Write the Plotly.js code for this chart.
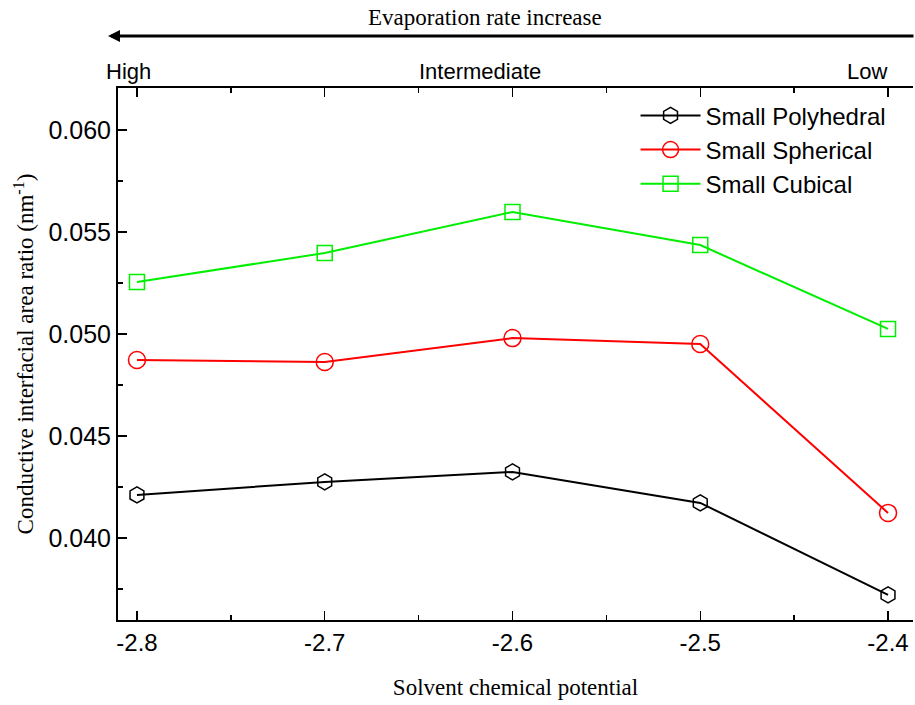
<!DOCTYPE html>
<html><head><meta charset="utf-8">
<script src="https://cdn.plot.ly/plotly-3.0.1.min.js"></script>
<style>html,body{margin:0;padding:0;background:#fff;}#chart{width:915px;height:705px;}</style>
</head><body><div id="chart"></div>
<script>
const potential = [-2.8, -2.7, -2.6, -2.5, -2.4];
const polyhedral = [0.04211, 0.04275, 0.04324, 0.04172, 0.03721];
const spherical = [0.04873, 0.04863, 0.04980, 0.04951, 0.04123];
const cubical = [0.05255, 0.05397, 0.05598, 0.05436, 0.05025];
const seriesNames = ['Small Polyhedral', 'Small Spherical', 'Small Cubical'];
const xTickLabels = ['-2.8', '-2.7', '-2.6', '-2.5', '-2.4'];
const yTickVals = [0.040, 0.045, 0.050, 0.055, 0.060];
const yTickLabels = ['0.040', '0.045', '0.050', '0.055', '0.060'];
const topLabels = ['High', 'Intermediate', 'Low'];

const sans = 'Liberation Sans, Arial, sans-serif';
const serif = 'Liberation Serif, Times New Roman, serif';

// plot area in pixels: left 118, right 913, top 88, bottom 620
const L = 118, W = 795, B = 620, H = 532;
const px = v => (v - L) / W;
const py = v => (B - v) / H;
const topLabelPx = [128, 480, 867];

function tr(y, name, color, symbol, size) {
  return {x: potential, y: y, name: name, type: 'scatter', mode: 'lines+markers',
    line: {color: color, width: 2},
    marker: {symbol: symbol, size: size, color: color, line: {color: color, width: 1.5}}};
}
const data = [
  tr(polyhedral, seriesNames[0], '#000000', 'hexagon-open', 16),
  tr(spherical, seriesNames[1], '#ff0000', 'circle-open', 17),
  tr(cubical, seriesNames[2], '#00ee00', 'square-open', 15)
];

const annotations = topLabels.map((t, i) => ({
  x: px(topLabelPx[i]), xref: 'paper', xanchor: 'center', y: py(71), yref: 'paper', yanchor: 'middle',
  text: t, showarrow: false, font: {family: sans, size: 22, color: '#000'}
}));
annotations.push({
  x: px(108), xref: 'paper', y: py(36), yref: 'paper',
  ax: 810, ay: 0, axref: 'pixel', ayref: 'pixel',
  showarrow: true, arrowhead: 2, arrowsize: 0.8, arrowwidth: 3, arrowcolor: '#000', text: ''
});
annotations.push({
  x: px(485), xref: 'paper', xanchor: 'center', y: py(17), yref: 'paper', yanchor: 'middle',
  text: 'Evaporation rate increase', showarrow: false,
  font: {family: serif, size: 23, color: '#000'}
});

const layout = {
  width: 915, height: 705,
  margin: {l: 118, r: 2, t: 88, b: 85},
  paper_bgcolor: '#fff', plot_bgcolor: '#fff',
  showlegend: true,
  legend: {x: 0.651, y: 0.99, xanchor: 'left', yanchor: 'top', bgcolor: 'rgba(0,0,0,0)',
    font: {family: sans, size: 24, color: '#000'}, tracegroupgap: 0, itemwidth: 60},
  xaxis: {range: [-2.8101, -2.3867], tickvals: potential, ticktext: xTickLabels,
    ticks: 'inside', ticklen: 9, tickwidth: 1.5, tickcolor: '#000',
    minor: {dtick: 0.05, tick0: -2.8, ticks: 'inside', ticklen: 5, tickwidth: 1.5, tickcolor: '#000'},
    showline: true, linecolor: '#000', linewidth: 2, mirror: 'ticks', showgrid: false, zeroline: false,
    tickfont: {family: sans, size: 24, color: '#000'},
    title: {text: 'Solvent chemical potential', font: {family: serif, size: 23, color: '#000'}, standoff: 24}},
  yaxis: {range: [0.03598, 0.06206], tickvals: yTickVals, ticktext: yTickLabels,
    ticks: 'inside', ticklen: 9, tickwidth: 1.5, tickcolor: '#000',
    minor: {dtick: 0.0025, tick0: 0.04, ticks: 'inside', ticklen: 5, tickwidth: 1.5, tickcolor: '#000'},
    showline: true, linecolor: '#000', linewidth: 2, showgrid: false, zeroline: false,
    tickfont: {family: sans, size: 25, color: '#000'},
    title: {text: 'Conductive interfacial area ratio (nm<sup>-1</sup>)', font: {family: serif, size: 23, color: '#000'}, standoff: 8}},
  annotations: annotations
};
Plotly.newPlot('chart', data, layout, {displayModeBar: false, staticPlot: true});
</script></body></html>
